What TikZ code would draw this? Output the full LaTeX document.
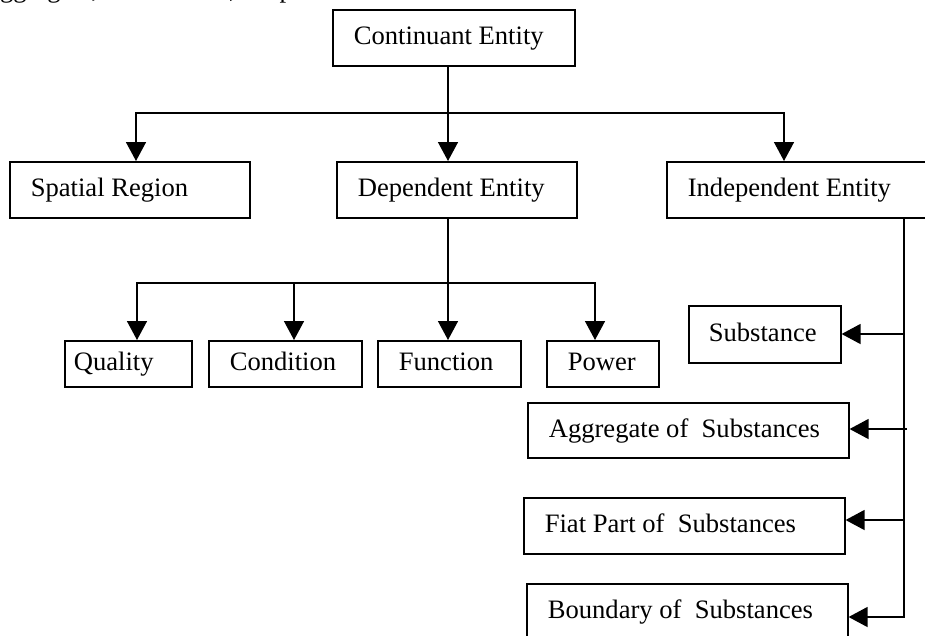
\documentclass[tikz,border=0pt]{standalone}
\usepackage{fontspec}
\setmainfont{Liberation Serif}
\usetikzlibrary{arrows.meta}
\newcommand\boxtxt[2]{\makebox[#1][l]{#2}}
\begin{document}
\begin{tikzpicture}[x=1pt,y=-1pt,
  box/.style={draw, line width=1.6pt, anchor=north west, inner ysep=0pt,
    inner xsep=21pt, text height=19pt, text depth=5pt,
    font=\fontsize{26.6}{30}\selectfont},
  link/.style={line width=1.5pt},
  arr/.style={line width=1.5pt, -{Triangle[length=19pt,width=20pt]}}]
\useasboundingbox (0,0) rectangle (925,635);
\fill[white] (0,0) rectangle (925,635);
\clip (0,0) rectangle (925,635);

% clipped line of text at the very top (only its lower edge shows)
\node[anchor=base west, inner sep=0pt, font=\fontsize{26.6}{30}\selectfont] (topline) at (-12,-3) {aggregate,\hspace{12pt} continuant,\hspace{12pt} dep};

% boxes
\node[box, minimum width=242pt, minimum height=56pt] (cont) at (332,9) {\boxtxt{200pt}{Continuant Entity}};
\node[box, minimum width=240pt, minimum height=56pt] (spatial) at (9,161) {\boxtxt{198pt}{Spatial Region}};
\node[box, minimum width=240pt, minimum height=56pt] (dep) at (336,161) {\boxtxt{198pt}{Dependent Entity}};
\node[box, minimum width=280pt, minimum height=56pt] (indep) at (666,161) {\boxtxt{238pt}{Independent Entity}};

\node[box, inner xsep=9pt, minimum width=127pt, minimum height=46pt] (quality) at (64,340) {\boxtxt{109pt}{Quality}};
\node[box, minimum width=153pt, minimum height=46pt] (condition) at (208,340) {\boxtxt{111pt}{Condition}};
\node[box, minimum width=143pt, minimum height=46pt] (function) at (377,340) {\boxtxt{101pt}{Function}};
\node[box, minimum width=112pt, minimum height=46pt] (power) at (546,340) {\boxtxt{70pt}{Power}};

\node[box, inner xsep=20pt, minimum width=152pt, minimum height=57pt] (substance) at (688,305) {\boxtxt{112pt}{Substance}};
\node[box, minimum width=321pt, minimum height=55pt] (aggregate) at (527,402) {\boxtxt{279pt}{Aggregate of\ \ Substances}};
\node[box, minimum width=321pt, minimum height=56pt] (fiat) at (523,497) {\boxtxt{279pt}{Fiat Part of\ \ Substances}};
\node[box, minimum width=321pt, minimum height=56pt] (boundary) at (526,583) {\boxtxt{279pt}{Boundary of\ \ Substances}};

% top level connectors
\coordinate (hub) at (448,113);
\coordinate (hl) at (136,113);
\coordinate (hr) at (784,113);
\draw[link] (cont.south -| hub) -- (hub);
\draw[arr] (hub) -- (hl) -- (hl |- spatial.north);
\draw[arr] (hub) -- (hr) -- (hr |- indep.north);
\draw[arr] (hub) -- (hub |- dep.north);

% dependent entity connectors
\coordinate (dhub) at (448,283);
\coordinate (dl) at (137,283);
\coordinate (dc) at (294,283);
\coordinate (dr) at (595,283);
\draw[link] (dep.south -| dhub) -- (dhub);
\draw[arr] (dhub) -- (dl) -- (dl |- quality.north);
\draw[arr] (dhub) -- (dr) -- (dr |- power.north);
\draw[arr] (dc) -- (dc |- condition.north);
\draw[arr] (dhub) -- (dhub |- function.north);

% independent entity connectors
\coordinate (rb) at (904,617);
\coordinate (r1) at (904,334);
\coordinate (r2) at (907,429);
\coordinate (r3) at (904,520);
\draw[arr] (indep.south -| rb) -- (rb) -- (rb -| boundary.east);
\draw[arr] (r1) -- (r1 -| substance.east);
\draw[arr] (r2) -- (r2 -| aggregate.east);
\draw[arr] (r3) -- (r3 -| fiat.east);
\end{tikzpicture}
\end{document}
